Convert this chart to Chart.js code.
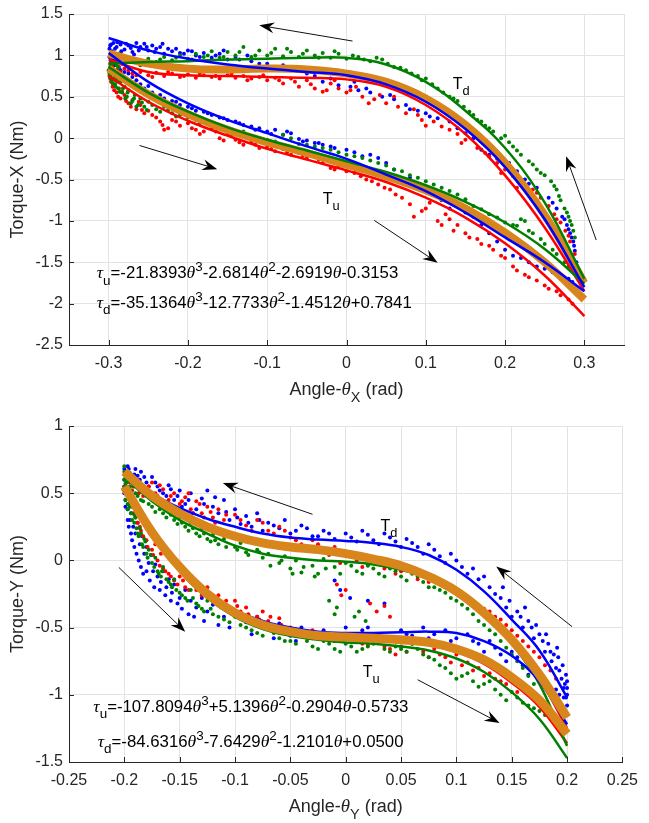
<!DOCTYPE html>
<html><head><meta charset="utf-8">
<script src="https://cdn.jsdelivr.net/npm/chart.js@4"></script>
<style>
html,body{margin:0;padding:0;background:#fff;}
#wrap{position:relative;width:649px;height:823px;overflow:hidden;background:#fff;}
.box{position:absolute;left:0;width:649px;}
</style></head><body>
<div id="wrap">
<div class="box" style="top:0;height:410px"><canvas id="c1"></canvas></div>
<div class="box" style="top:410px;height:413px"><canvas id="c2"></canvas></div>
</div>
<script>
// ---------------- DATA: top panel (X axis) ----------------
const xTicksTop = [-0.3,-0.2,-0.1,0,0.1,0.2,0.3];
const yTicksTop = [-2.5,-2,-1.5,-1,-0.5,0,0.5,1,1.5];
const thetaTop = [-0.3,-0.25,-0.2,-0.15,-0.1,-0.05,0,0.05,0.1,0.15,0.2,0.25,0.3];
const topOrangeTu = [0.84,0.53,0.29,0.10,-0.05,-0.18,-0.32,-0.46,-0.63,-0.85,-1.14,-1.50,-1.95];
const topOrangeTd = [1.02,0.90,0.84,0.83,0.84,0.83,0.78,0.68,0.48,0.16,-0.30,-0.93,-1.75];
const topBlueTd = [1.21,1.06,0.96,0.89,0.84,0.80,0.76,0.65,0.44,0.11,-0.35,-0.98,-1.80];
const topRedTd = [0.95,0.80,0.76,0.75,0.74,0.73,0.71,0.62,0.40,0.05,-0.45,-1.08,-1.85];
const topGreenTd = [0.90,0.92,0.93,0.95,0.96,0.97,0.97,0.89,0.68,0.33,-0.12,-0.78,-1.70];
const topBlueTu = [1.03,0.68,0.42,0.22,0.06,-0.10,-0.25,-0.44,-0.64,-0.90,-1.20,-1.50,-1.85];
const topGreenTu = [0.86,0.55,0.32,0.13,-0.02,-0.15,-0.28,-0.41,-0.57,-0.77,-1.02,-1.34,-1.76];
const topRedTu = [0.75,0.44,0.21,0.03,-0.13,-0.26,-0.39,-0.53,-0.72,-0.96,-1.27,-1.66,-2.15];

const topBlueDots = [[-0.298,1.12],[-0.296,1.05],[-0.294,1.15],[-0.292,1.08],[-0.29,1.1],[-0.288,1.02],[-0.285,1.13],[-0.28,1.07],[-0.275,1.12],[-0.27,1.04],[-0.265,1.15],[-0.26,1.1],[-0.255,1.14],[-0.25,1.06],[-0.245,1.12],[-0.24,1.08],[-0.235,1.1],[-0.23,1.02],[-0.225,1.08],[-0.22,1.05],[-0.21,1.03],[-0.2,1.06],[-0.19,1.0],[-0.18,1.03],[-0.17,0.97],[-0.16,1.02],[-0.15,0.95],[-0.14,0.98],[-0.12,0.93],[-0.1,0.9],[-0.08,0.88],[-0.06,0.84],[-0.04,0.75],[-0.03,0.68],[-0.02,0.72],[-0.01,0.64],[0.005,0.62],[0.015,0.58],[0.03,0.55],[0.045,0.5],[0.06,0.47],[0.075,0.4],[0.09,0.33],[0.1,0.3],[0.115,0.24],[0.13,0.2],[0.15,0.06],[0.17,-0.14],[0.18,-0.2],[0.205,-0.3],[0.215,-0.4],[0.225,-0.5],[0.24,-0.6],[0.255,-0.72],[0.265,-0.85],[0.272,-0.95],[0.278,-1.05],[0.282,-1.15],[0.286,-1.25],[0.288,-1.36],[0.29,-1.5],
[-0.299,0.98],[-0.297,0.92],[-0.295,0.96],[-0.293,0.88],[-0.29,0.93],[-0.287,0.85],[-0.283,0.9],[-0.28,0.8],[-0.27,0.74],[-0.26,0.65],[-0.255,0.6],[-0.25,0.63],[-0.245,0.55],[-0.24,0.5],[-0.23,0.48],[-0.22,0.45],[-0.21,0.4],[-0.2,0.38],[-0.19,0.33],[-0.18,0.32],[-0.17,0.28],[-0.16,0.25],[-0.15,0.22],[-0.14,0.2],[-0.13,0.16],[-0.12,0.14],[-0.11,0.12],[-0.1,0.08],[-0.09,0.1],[-0.08,0.04],[-0.07,0.06],[-0.06,-0.01],[-0.05,-0.03],[-0.04,-0.06],[-0.03,-0.08],[-0.02,-0.1],[0.0,-0.14],[0.02,-0.22],[0.04,-0.24],[0.06,-0.38],[0.07,-0.5],[0.09,-0.56],[0.11,-0.65],[0.13,-0.85],[0.15,-0.9],[0.17,-1.05],[0.19,-1.25],[0.2,-1.35],[0.21,-1.42],[0.23,-1.5],[0.25,-1.58],[0.27,-1.66],[0.285,-1.74]];
const topBlueMore = [[-0.299,1.08],[-0.297,1.13],[-0.293,1.0],[-0.289,1.16],[-0.284,1.05],[-0.278,1.14],[-0.272,1.09],[-0.268,1.01],[-0.262,1.06],[-0.252,1.1],[-0.242,1.04],[-0.232,1.14],[-0.215,1.08],[-0.205,1.02],[-0.195,1.05],[-0.185,0.98],[-0.165,1.0],[-0.155,1.06],[-0.135,0.95],[-0.125,1.0],[-0.11,0.9],[-0.09,0.85],[-0.07,0.82],[-0.05,0.78],[0.01,0.68],[0.025,0.6],[0.055,0.52],[0.08,0.35],[0.105,0.26],[0.125,0.3],[0.14,0.12],[0.16,0.0],[0.19,-0.25],[0.23,-0.55],[0.26,-0.78],[0.275,-0.98],[0.28,-1.1],[0.284,-1.2],[0.287,-1.3],
[-0.296,0.9],[-0.291,0.95],[-0.285,0.82],[-0.275,0.78],[-0.265,0.7],[-0.235,0.52],[-0.215,0.44],[-0.195,0.36],[-0.175,0.3],[-0.155,0.24],[-0.135,0.18],[-0.115,0.1],[-0.095,0.05],[-0.075,0.08],[-0.055,-0.04],[-0.035,-0.06],[-0.015,-0.12],[0.01,-0.17],[0.03,-0.2],[0.05,-0.3],[0.08,-0.48],[0.1,-0.6],[0.12,-0.75],[0.14,-0.82],[0.16,-0.95],[0.18,-1.15],[0.22,-1.45],[0.24,-1.55],[0.26,-1.62],[0.28,-1.7]];
const topRedDots = [[-0.298,0.9],[-0.295,0.85],[-0.29,0.82],[-0.285,0.8],[-0.28,0.84],[-0.27,0.78],[-0.26,0.8],[-0.25,0.76],[-0.24,0.79],[-0.23,0.75],[-0.22,0.78],[-0.21,0.74],[-0.2,0.77],[-0.19,0.73],[-0.18,0.76],[-0.17,0.74],[-0.16,0.72],[-0.15,0.76],[-0.14,0.73],[-0.13,0.75],[-0.12,0.72],[-0.11,0.74],[-0.1,0.7],[-0.09,0.73],[-0.08,0.66],[-0.07,0.72],[-0.06,0.62],[-0.05,0.7],[-0.04,0.6],[-0.03,0.56],[-0.02,0.66],[-0.01,0.6],[0.005,0.58],[0.02,0.5],[0.035,0.47],[0.05,0.42],[0.06,0.5],[0.075,0.3],[0.085,0.35],[0.095,0.22],[0.11,0.2],[0.12,0.14],[0.14,0.05],[0.15,-0.02],[0.165,-0.12],[0.18,-0.22],[0.19,-0.3],[0.2,-0.38],[0.21,-0.46],[0.22,-0.55],[0.235,-0.62],[0.245,-0.72],[0.255,-0.82],[0.262,-0.92],[0.27,-1.02],[0.276,-1.12],[0.282,-1.25],[0.288,-1.4],
[-0.299,0.75],[-0.297,0.68],[-0.295,0.62],[-0.292,0.7],[-0.29,0.55],[-0.287,0.6],[-0.285,0.48],[-0.28,0.52],[-0.275,0.42],[-0.27,0.46],[-0.265,0.35],[-0.26,0.4],[-0.255,0.3],[-0.25,0.33],[-0.24,0.25],[-0.235,0.2],[-0.23,0.1],[-0.22,0.22],[-0.21,0.15],[-0.2,0.18],[-0.19,0.1],[-0.18,0.08],[-0.17,0.12],[-0.16,0.0],[-0.15,0.05],[-0.14,-0.02],[-0.13,-0.08],[-0.12,-0.05],[-0.11,-0.12],[-0.1,-0.1],[-0.09,-0.16],[-0.08,-0.13],[-0.07,-0.2],[-0.06,-0.18],[-0.05,-0.24],[-0.04,-0.22],[-0.03,-0.3],[-0.02,-0.36],[-0.01,-0.33],[0.01,-0.42],[0.025,-0.5],[0.04,-0.56],[0.055,-0.62],[0.07,-0.72],[0.08,-0.8],[0.095,-0.88],[0.105,-0.78],[0.115,-1.0],[0.125,-0.92],[0.135,-1.12],[0.14,-1.05],[0.155,-1.2],[0.17,-1.28],[0.185,-1.35],[0.2,-1.45],[0.21,-1.55],[0.225,-1.65],[0.24,-1.72],[0.255,-1.82],[0.27,-1.9],[0.285,-2.0]];
const topRedMore = [[-0.296,0.88],[-0.292,0.8],[-0.287,0.86],[-0.275,0.82],[-0.265,0.76],[-0.245,0.74],[-0.225,0.8],[-0.205,0.75],[-0.185,0.78],[-0.165,0.75],[-0.145,0.78],[-0.125,0.7],[-0.105,0.76],[-0.085,0.7],[-0.065,0.68],[-0.045,0.65],[-0.025,0.58],[-0.015,0.7],[0.0,0.55],[0.012,0.62],[0.028,0.42],[0.042,0.52],[0.065,0.38],[0.09,0.28],[0.1,0.15],[0.13,0.1],[0.145,-0.06],[0.175,-0.18],[0.195,-0.42],[0.215,-0.6],[0.24,-0.66],[0.25,-0.9],[0.265,-0.98],[0.28,-1.18],
[-0.298,0.72],[-0.293,0.58],[-0.288,0.5],[-0.283,0.56],[-0.278,0.45],[-0.272,0.38],[-0.262,0.44],[-0.258,0.34],[-0.245,0.28],[-0.232,0.16],[-0.225,0.12],[-0.215,0.2],[-0.195,0.12],[-0.185,0.05],[-0.165,0.08],[-0.155,-0.03],[-0.135,-0.05],[-0.115,-0.08],[-0.095,-0.13],[-0.075,-0.17],[-0.055,-0.21],[-0.035,-0.26],[-0.015,-0.38],[0.0,-0.4],[0.018,-0.46],[0.032,-0.52],[0.048,-0.6],[0.062,-0.68],[0.085,-0.95],[0.1,-0.85],[0.12,-1.05],[0.13,-0.98],[0.15,-1.15],[0.165,-1.22],[0.18,-1.3],[0.195,-1.42],[0.215,-1.6],[0.23,-1.68],[0.25,-1.78],[0.265,-1.85],[0.28,-1.95]];
const topGreenDots = [[-0.298,0.86],[-0.295,0.92],[-0.29,0.88],[-0.285,0.95],[-0.28,0.9],[-0.27,0.93],[-0.26,0.88],[-0.25,0.96],[-0.24,0.92],[-0.23,0.98],[-0.22,0.94],[-0.21,1.0],[-0.2,0.96],[-0.19,1.02],[-0.18,0.98],[-0.17,1.05],[-0.16,0.97],[-0.15,1.04],[-0.14,1.0],[-0.13,1.1],[-0.12,0.98],[-0.11,1.06],[-0.1,1.0],[-0.09,1.08],[-0.08,0.99],[-0.07,1.04],[-0.06,0.98],[-0.05,1.06],[-0.04,1.0],[-0.03,1.03],[-0.02,0.97],[-0.01,1.02],[0.0,0.96],[0.015,0.98],[0.03,0.93],[0.045,0.95],[0.06,0.86],[0.075,0.82],[0.09,0.75],[0.1,0.72],[0.115,0.6],[0.13,0.5],[0.14,0.45],[0.155,0.32],[0.165,0.22],[0.175,0.15],[0.185,0.08],[0.2,0.03],[0.21,-0.1],[0.22,-0.2],[0.23,-0.28],[0.24,-0.38],[0.25,-0.45],[0.258,-0.52],[0.265,-0.62],[0.27,-0.75],[0.275,-0.85],[0.28,-0.95],[0.284,-1.05],[0.288,-1.2],
[-0.3,0.82],[-0.298,0.75],[-0.296,0.7],[-0.294,0.78],[-0.292,0.65],[-0.29,0.72],[-0.288,0.6],[-0.285,0.68],[-0.283,0.55],[-0.28,0.62],[-0.277,0.5],[-0.275,0.58],[-0.27,0.45],[-0.267,0.52],[-0.263,0.4],[-0.26,0.48],[-0.255,0.38],[-0.25,0.44],[-0.24,0.35],[-0.23,0.38],[-0.22,0.3],[-0.21,0.28],[-0.2,0.25],[-0.19,0.22],[-0.18,0.2],[-0.17,0.16],[-0.16,0.12],[-0.15,0.1],[-0.14,0.07],[-0.12,0.02],[-0.1,-0.02],[-0.08,0.04],[-0.06,-0.07],[-0.04,-0.1],[-0.02,-0.14],[0.0,-0.2],[0.02,-0.24],[0.04,-0.3],[0.06,-0.38],[0.08,-0.45],[0.1,-0.52],[0.12,-0.6],[0.14,-0.68],[0.16,-0.82],[0.18,-0.92],[0.2,-1.02],[0.215,-1.06],[0.225,-1.0],[0.23,-1.12],[0.245,-1.22],[0.26,-1.35],[0.275,-1.5],[0.288,-1.62]];
const topGreenMore = [[-0.296,0.9],[-0.288,0.85],[-0.275,0.96],[-0.255,0.9],[-0.235,0.95],[-0.215,0.97],[-0.195,0.95],[-0.175,1.0],[-0.155,0.98],[-0.135,1.04],[-0.115,1.0],[-0.095,1.03],[-0.075,1.08],[-0.055,1.02],[-0.035,0.97],[-0.015,1.05],[0.008,1.0],[0.022,0.95],[0.038,0.97],[0.052,0.9],[0.068,0.85],[0.082,0.78],[0.095,0.7],[0.108,0.65],[0.122,0.55],[0.135,0.48],[0.148,0.38],[0.16,0.28],[0.17,0.2],[0.18,0.12],[0.195,0.0],[0.205,-0.05],[0.215,-0.15],[0.235,-0.32],[0.245,-0.42],[0.262,-0.58],[0.268,-0.7],[0.278,-0.9],[0.282,-1.0],[0.286,-1.12],
[-0.299,0.78],[-0.297,0.72],[-0.295,0.66],[-0.293,0.74],[-0.291,0.62],[-0.289,0.68],[-0.286,0.56],[-0.282,0.6],[-0.279,0.48],[-0.276,0.55],[-0.272,0.42],[-0.268,0.48],[-0.265,0.38],[-0.258,0.43],[-0.252,0.34],[-0.245,0.4],[-0.235,0.32],[-0.225,0.34],[-0.215,0.26],[-0.205,0.3],[-0.185,0.18],[-0.165,0.15],[-0.145,0.05],[-0.13,0.08],[-0.11,0.0],[-0.09,-0.04],[-0.07,0.0],[-0.05,-0.08],[-0.03,-0.12],[-0.01,-0.17],[0.01,-0.22],[0.03,-0.27],[0.05,-0.33],[0.07,-0.4],[0.09,-0.48],[0.11,-0.56],[0.13,-0.64],[0.15,-0.74],[0.17,-0.86],[0.19,-0.96],[0.21,-1.05],[0.22,-0.98],[0.235,-1.15],[0.25,-1.28],[0.265,-1.4],[0.28,-1.55]];

// ---------------- DATA: bottom panel (Y axis) ----------------
const xTicksBot = [-0.25,-0.2,-0.15,-0.1,-0.05,0,0.05,0.1,0.15,0.2,0.25];
const yTicksBot = [-1.5,-1,-0.5,0,0.5,1];
const thetaBot = [-0.2,-0.175,-0.15,-0.125,-0.1,-0.075,-0.05,-0.025,0,0.025,0.05,0.075,0.1,0.125,0.15,0.175,0.2];
const botOrangeTu = [0.55,0.21,-0.05,-0.25,-0.39,-0.48,-0.53,-0.56,-0.57,-0.58,-0.59,-0.61,-0.66,-0.74,-0.87,-1.04,-1.29];
const botOrangeTd = [0.66,0.48,0.35,0.25,0.18,0.13,0.10,0.08,0.05,0.01,-0.04,-0.12,-0.23,-0.39,-0.59,-0.85,-1.17];
const botBlueTd = [0.66,0.50,0.39,0.31,0.25,0.20,0.17,0.155,0.145,0.13,0.10,0.04,-0.07,-0.23,-0.44,-0.67,-1.02];
const botGreenTd = [0.62,0.44,0.30,0.20,0.11,0.05,0.02,0.0,-0.01,-0.03,-0.07,-0.13,-0.23,-0.39,-0.62,-0.92,-1.38];
const botRedTd = [0.65,0.47,0.34,0.24,0.17,0.12,0.09,0.07,0.04,0.0,-0.05,-0.13,-0.24,-0.40,-0.61,-0.88,-1.25];
const botBlueTu = [0.55,0.22,-0.04,-0.23,-0.37,-0.45,-0.50,-0.53,-0.54,-0.54,-0.535,-0.53,-0.54,-0.60,-0.71,-0.90,-1.22];
const botGreenTu = [0.58,0.20,-0.08,-0.28,-0.42,-0.51,-0.56,-0.59,-0.61,-0.62,-0.64,-0.67,-0.73,-0.83,-0.98,-1.18,-1.47];
const botRedTu = [0.56,0.21,-0.06,-0.26,-0.40,-0.49,-0.54,-0.57,-0.58,-0.59,-0.60,-0.63,-0.68,-0.77,-0.91,-1.09,-1.36];

const botBlueDots = [[-0.2,0.68],[-0.198,0.62],[-0.197,0.7],[-0.195,0.65],[-0.193,0.6],[-0.19,0.68],[-0.188,0.63],[-0.185,0.66],[-0.18,0.58],[-0.175,0.62],[-0.17,0.55],[-0.165,0.5],[-0.16,0.56],[-0.155,0.45],[-0.15,0.52],[-0.145,0.42],[-0.14,0.5],[-0.135,0.38],[-0.13,0.46],[-0.125,0.52],[-0.12,0.4],[-0.115,0.35],[-0.11,0.45],[-0.105,0.3],[-0.1,0.38],[-0.095,0.27],[-0.09,0.33],[-0.085,0.25],[-0.08,0.35],[-0.075,0.22],[-0.07,0.28],[-0.06,0.24],[-0.05,0.2],[-0.04,0.26],[-0.03,0.18],[-0.02,0.22],[-0.01,0.16],[0.0,0.2],[0.01,0.14],[0.02,0.19],[0.03,0.12],[0.04,0.17],[0.05,0.1],[0.06,0.13],[0.07,0.05],[0.08,0.08],[0.09,-0.02],[0.1,0.0],[0.11,-0.1],[0.12,-0.14],[0.13,-0.2],[0.14,-0.28],[0.145,-0.35],[0.15,-0.42],[0.155,-0.38],[0.16,-0.5],[0.165,-0.45],[0.17,-0.58],[0.175,-0.55],[0.18,-0.68],[0.183,-0.62],[0.186,-0.75],[0.19,-0.8],[0.192,-0.72],[0.195,-0.88],[0.197,-0.95],[0.199,-0.85],[0.2,-1.0],[0.2,-1.08],[-0.01,-0.15],[-0.005,-0.22],[0.004,-0.28],[0.02,-0.3],[0.035,-0.32],
[-0.2,0.55],[-0.199,0.45],[-0.198,0.5],[-0.197,0.38],[-0.196,0.42],[-0.195,0.3],[-0.194,0.35],[-0.192,0.25],[-0.19,0.2],[-0.188,0.28],[-0.186,0.12],[-0.184,0.18],[-0.182,0.05],[-0.18,0.1],[-0.178,-0.02],[-0.176,0.04],[-0.174,-0.08],[-0.172,-0.03],[-0.17,-0.12],[-0.167,-0.16],[-0.165,-0.08],[-0.162,-0.2],[-0.16,-0.14],[-0.157,-0.24],[-0.155,-0.18],[-0.15,-0.28],[-0.145,-0.22],[-0.14,-0.3],[-0.135,-0.35],[-0.13,-0.28],[-0.125,-0.38],[-0.12,-0.33],[-0.11,-0.42],[-0.1,-0.38],[-0.09,-0.46],[-0.08,-0.42],[-0.07,-0.5],[-0.06,-0.47],[-0.05,-0.56],[-0.04,-0.5],[-0.03,-0.58],[-0.02,-0.52],[-0.01,-0.6],[0.0,-0.5],[0.01,-0.56],[0.02,-0.5],[0.03,-0.55],[0.04,-0.58],[0.05,-0.52],[0.06,-0.56],[0.07,-0.5],[0.08,-0.55],[0.09,-0.52],[0.1,-0.58],[0.11,-0.55],[0.12,-0.62],[0.13,-0.6],[0.14,-0.7],[0.15,-0.68],[0.16,-0.78],[0.17,-0.82],[0.18,-0.9],[0.19,-0.96],[0.197,-1.02]];
const botBlueMore = [[-0.2,0.6],[-0.199,0.66],[-0.196,0.68],[-0.194,0.62],[-0.191,0.64],[-0.189,0.58],[-0.186,0.6],[-0.182,0.62],[-0.178,0.55],[-0.172,0.58],[-0.168,0.52],[-0.162,0.48],[-0.158,0.53],[-0.152,0.48],[-0.148,0.4],[-0.142,0.45],[-0.138,0.35],[-0.128,0.42],[-0.118,0.47],[-0.108,0.36],[-0.098,0.32],[-0.088,0.28],[-0.078,0.3],[-0.065,0.26],[-0.055,0.3],[-0.045,0.22],[-0.035,0.24],[-0.025,0.18],[-0.015,0.2],[0.005,0.17],[0.015,0.22],[0.025,0.15],[0.035,0.2],[0.045,0.14],[0.055,0.16],[0.065,0.1],[0.075,0.12],[0.085,0.03],[0.095,0.05],[0.105,-0.05],[0.115,-0.06],[0.125,-0.12],[0.135,-0.25],[0.142,-0.2],[0.148,-0.3],[0.158,-0.42],[0.162,-0.35],[0.168,-0.5],[0.172,-0.48],[0.178,-0.6],[0.181,-0.55],[0.185,-0.68],[0.188,-0.7],[0.191,-0.65],[0.193,-0.82],[0.196,-0.78],[0.198,-0.92],[0.199,-1.02],[0.2,-0.9],[0.2,-0.95],
[-0.2,0.5],[-0.199,0.4],[-0.197,0.3],[-0.196,0.25],[-0.194,0.2],[-0.193,0.15],[-0.191,0.1],[-0.189,0.05],[-0.187,0.0],[-0.185,-0.05],[-0.183,-0.1],[-0.18,-0.08],[-0.177,-0.15],[-0.173,-0.2],[-0.168,-0.22],[-0.163,-0.26],[-0.158,-0.3],[-0.152,-0.32],[-0.148,-0.36],[-0.142,-0.4],[-0.137,-0.42],[-0.128,-0.45],[-0.115,-0.48],[-0.105,-0.5],[-0.085,-0.55],[-0.065,-0.58],[-0.045,-0.6],[-0.025,-0.55],[-0.005,-0.58],[0.015,-0.52],[0.035,-0.6],[0.055,-0.55],[0.075,-0.58],[0.095,-0.6],[0.115,-0.6],[0.125,-0.68],[0.135,-0.65],[0.145,-0.75],[0.155,-0.72],[0.165,-0.85],[0.175,-0.88],[0.185,-0.95],[0.193,-1.0]];
const botRedDots = [[-0.198,0.62],[-0.195,0.58],[-0.192,0.55],[-0.19,0.6],[-0.187,0.5],[-0.185,0.56],[-0.18,0.52],[-0.175,0.58],[-0.17,0.48],[-0.165,0.53],[-0.16,0.45],[-0.155,0.5],[-0.15,0.42],[-0.145,0.47],[-0.14,0.38],[-0.135,0.44],[-0.13,0.35],[-0.125,0.4],[-0.12,0.32],[-0.115,0.38],[-0.11,0.3],[-0.1,0.34],[-0.09,0.26],[-0.08,0.3],[-0.07,0.22],[-0.06,0.25],[-0.05,0.17],[-0.04,0.12],[-0.03,0.15],[-0.02,0.06],[-0.01,0.1],[-0.005,-0.02],[0.005,0.04],[0.015,-0.05],[0.025,0.02],[0.035,-0.06],[0.05,-0.08],[0.065,-0.14],[0.08,-0.12],[0.095,-0.22],[0.11,-0.28],[0.12,-0.34],[0.13,-0.38],[0.14,-0.44],[0.15,-0.52],[0.16,-0.6],[0.17,-0.68],[0.18,-0.78],[0.19,-0.88],[-0.008,-0.18],[-0.004,-0.26],[0.0,-0.22],[0.022,-0.32],[0.028,-0.38],[0.035,-0.34],[0.04,-0.42],
[-0.195,0.45],[-0.192,0.35],[-0.19,0.4],[-0.188,0.28],[-0.185,0.22],[-0.182,0.3],[-0.18,0.15],[-0.177,0.2],[-0.175,0.08],[-0.172,0.12],[-0.17,0.0],[-0.167,0.05],[-0.165,-0.06],[-0.16,-0.1],[-0.155,-0.15],[-0.15,-0.12],[-0.145,-0.2],[-0.14,-0.16],[-0.135,-0.22],[-0.13,-0.26],[-0.125,-0.2],[-0.12,-0.3],[-0.115,-0.26],[-0.11,-0.34],[-0.1,-0.3],[-0.095,-0.38],[-0.09,-0.35],[-0.08,-0.42],[-0.075,-0.38],[-0.07,-0.45],[-0.06,-0.43],[-0.05,-0.5],[-0.04,-0.55],[-0.03,-0.52],[-0.02,-0.58],[-0.01,-0.6],[0.0,-0.56],[0.01,-0.6],[0.02,-0.63],[0.03,-0.58],[0.04,-0.66],[0.05,-0.64],[0.06,-0.62],[0.07,-0.68],[0.08,-0.66],[0.09,-0.72],[0.1,-0.7],[0.11,-0.76],[0.12,-0.8],[0.13,-0.84],[0.14,-0.9],[0.15,-0.88],[0.16,-0.96],[0.17,-1.02],[0.18,-1.06]];
const botRedMore = [[-0.196,0.6],[-0.193,0.52],[-0.188,0.58],[-0.183,0.48],[-0.178,0.55],[-0.172,0.5],[-0.168,0.56],[-0.162,0.42],[-0.158,0.48],[-0.152,0.38],[-0.148,0.44],[-0.142,0.5],[-0.138,0.35],[-0.132,0.42],[-0.128,0.32],[-0.122,0.36],[-0.118,0.28],[-0.108,0.34],[-0.095,0.3],[-0.085,0.22],[-0.075,0.28],[-0.065,0.2],[-0.055,0.22],[-0.045,0.15],[-0.035,0.1],[-0.025,0.12],[-0.015,0.04],[0.01,0.0],[0.02,-0.03],[0.03,0.0],[0.045,-0.1],[0.06,-0.06],[0.075,-0.16],[0.09,-0.18],[0.105,-0.25],[0.115,-0.3],[0.125,-0.36],[0.135,-0.42],[0.145,-0.48],[0.155,-0.56],[0.165,-0.64],[0.175,-0.72],[0.185,-0.82],
[-0.193,0.42],[-0.19,0.32],[-0.186,0.25],[-0.183,0.18],[-0.179,0.1],[-0.174,0.04],[-0.168,-0.04],[-0.163,-0.08],[-0.158,-0.12],[-0.152,-0.18],[-0.147,-0.15],[-0.142,-0.22],[-0.137,-0.18],[-0.128,-0.24],[-0.118,-0.28],[-0.108,-0.3],[-0.098,-0.34],[-0.088,-0.4],[-0.078,-0.44],[-0.068,-0.42],[-0.058,-0.48],[-0.048,-0.52],[-0.035,-0.55],[-0.025,-0.56],[-0.005,-0.58],[0.015,-0.62],[0.035,-0.64],[0.045,-0.7],[0.055,-0.68],[0.075,-0.72],[0.085,-0.7],[0.095,-0.76],[0.105,-0.78],[0.115,-0.82],[0.125,-0.86],[0.135,-0.88],[0.145,-0.92],[0.155,-0.98],[0.165,-1.0],[0.175,-1.05]];
const botGreenDots = [[-0.2,0.7],[-0.199,0.62],[-0.197,0.66],[-0.195,0.55],[-0.192,0.6],[-0.19,0.5],[-0.187,0.55],[-0.185,0.45],[-0.18,0.48],[-0.175,0.4],[-0.17,0.42],[-0.165,0.35],[-0.16,0.38],[-0.155,0.3],[-0.15,0.32],[-0.145,0.25],[-0.14,0.28],[-0.135,0.2],[-0.13,0.24],[-0.125,0.16],[-0.12,0.19],[-0.115,0.12],[-0.11,0.16],[-0.1,0.1],[-0.095,0.13],[-0.09,0.06],[-0.08,0.08],[-0.075,0.02],[-0.07,0.05],[-0.06,-0.02],[-0.055,0.03],[-0.05,-0.06],[-0.045,0.0],[-0.04,-0.09],[-0.03,-0.04],[-0.025,-0.1],[-0.02,0.01],[-0.01,-0.05],[0.0,-0.02],[0.01,-0.08],[0.02,-0.04],[0.03,-0.1],[0.04,-0.06],[0.05,-0.12],[0.06,-0.1],[0.07,-0.16],[0.08,-0.2],[0.09,-0.24],[0.1,-0.3],[0.11,-0.36],[0.12,-0.45],[0.13,-0.52],[0.14,-0.6],[0.15,-0.7],[0.16,-0.8],[0.17,-0.92],[-0.015,-0.3],[-0.01,-0.4],[-0.008,-0.35],[0.008,-0.42],[0.012,-0.38],[0.018,-0.45],
[-0.2,0.6],[-0.199,0.5],[-0.198,0.55],[-0.197,0.42],[-0.196,0.46],[-0.194,0.35],[-0.193,0.4],[-0.191,0.28],[-0.19,0.32],[-0.188,0.2],[-0.186,0.24],[-0.184,0.12],[-0.182,0.16],[-0.18,0.05],[-0.178,0.08],[-0.175,-0.02],[-0.172,0.02],[-0.17,-0.08],[-0.167,-0.12],[-0.165,-0.05],[-0.16,-0.16],[-0.157,-0.2],[-0.155,-0.14],[-0.15,-0.24],[-0.145,-0.28],[-0.14,-0.22],[-0.135,-0.32],[-0.13,-0.36],[-0.125,-0.3],[-0.12,-0.4],[-0.11,-0.44],[-0.1,-0.42],[-0.09,-0.5],[-0.08,-0.54],[-0.07,-0.5],[-0.06,-0.58],[-0.05,-0.6],[-0.04,-0.56],[-0.03,-0.64],[-0.02,-0.6],[-0.01,-0.66],[0.0,-0.62],[0.01,-0.68],[0.02,-0.64],[0.03,-0.6],[0.04,-0.68],[0.05,-0.66],[0.06,-0.62],[0.07,-0.7],[0.08,-0.74],[0.09,-0.8],[0.1,-0.88],[0.11,-0.84],[0.12,-0.94],[0.13,-0.9],[0.14,-1.0],[0.15,-0.98],[0.16,-1.06],[0.17,-1.1],[0.18,-1.15]];
const botGreenMore = [[-0.2,0.66],[-0.198,0.58],[-0.196,0.6],[-0.194,0.52],[-0.191,0.55],[-0.188,0.48],[-0.183,0.44],[-0.178,0.42],[-0.172,0.36],[-0.168,0.38],[-0.162,0.32],[-0.158,0.34],[-0.152,0.27],[-0.148,0.28],[-0.142,0.22],[-0.138,0.24],[-0.132,0.18],[-0.128,0.2],[-0.122,0.14],[-0.118,0.15],[-0.108,0.1],[-0.098,0.08],[-0.088,0.04],[-0.078,0.06],[-0.068,-0.04],[-0.058,0.0],[-0.048,-0.1],[-0.038,-0.05],[-0.028,-0.12],[-0.018,-0.06],[-0.005,-0.1],[0.005,-0.04],[0.015,-0.1],[0.025,-0.06],[0.035,-0.12],[0.045,-0.08],[0.055,-0.15],[0.065,-0.12],[0.075,-0.2],[0.085,-0.22],[0.095,-0.28],[0.105,-0.33],[0.115,-0.4],[0.125,-0.48],[0.135,-0.55],[0.145,-0.65],[0.155,-0.75],[0.165,-0.86],
[-0.2,0.55],[-0.199,0.45],[-0.197,0.38],[-0.195,0.4],[-0.193,0.3],[-0.191,0.34],[-0.189,0.24],[-0.187,0.18],[-0.185,0.2],[-0.183,0.1],[-0.181,0.14],[-0.179,0.02],[-0.176,0.04],[-0.173,-0.05],[-0.169,-0.1],[-0.166,-0.08],[-0.162,-0.14],[-0.158,-0.18],[-0.153,-0.22],[-0.148,-0.26],[-0.143,-0.3],[-0.138,-0.28],[-0.133,-0.34],[-0.128,-0.38],[-0.122,-0.36],[-0.115,-0.42],[-0.105,-0.46],[-0.095,-0.48],[-0.085,-0.52],[-0.075,-0.56],[-0.065,-0.54],[-0.055,-0.6],[-0.045,-0.62],[-0.035,-0.6],[-0.025,-0.66],[-0.015,-0.62],[-0.005,-0.68],[0.005,-0.64],[0.015,-0.66],[0.025,-0.62],[0.035,-0.66],[0.045,-0.64],[0.055,-0.68],[0.065,-0.66],[0.075,-0.72],[0.085,-0.78],[0.095,-0.84],[0.105,-0.86],[0.115,-0.9],[0.125,-0.92],[0.135,-0.96],[0.145,-1.04],[0.155,-1.02],[0.165,-1.08],[0.175,-1.12]];

// ---------------- texts & annotations ----------------
const titleXTop = 'Angle-θ_X (rad)';
const titleYTop = 'Torque-X (Nm)';
const titleXBot = 'Angle-θ_Y (rad)';
const titleYBot = 'Torque-Y (Nm)';
const eqTop = ['τ_u=-21.8393θ^3-2.6814θ^2-2.6919θ-0.3153','τ_d=-35.1364θ^3-12.7733θ^2-1.4512θ+0.7841'];
const eqBot = ['τ_u=-107.8094θ^3+5.1396θ^2-0.2904θ-0.5733','τ_d=-84.6316θ^3-7.6429θ^2-1.2101θ+0.0500'];
const eqTopPos = [[-0.315,-1.693],[-0.315,-2.05]];
const eqBotPos = [[-0.228,-1.125],[-0.224,-1.386]];
const labelsTop = [['T_d',0.134,0.59],['T_u',-0.030,-0.80]];
const labelsBot = [['T_d',0.0315,0.216],['T_u',0.0153,-0.866]];
// arrows: [x1,y1,x2(tip),y2(tip)]
const arrowsTop = [[0.0076,1.173,-0.110,1.363],[-0.261,-0.089,-0.163,-0.375],[0.035,-0.994,0.115,-1.506],[0.315,-1.232,0.277,-0.220]];
const arrowsBot = [[-0.030,0.343,-0.111,0.575],[-0.205,-0.052,-0.145,-0.530],[0.2045,-0.493,0.136,-0.045],[0.065,-0.888,0.139,-1.209]];

// ---------------- helpers ----------------
const BLUE='#0000ff', RED='#ff0000', GREEN='#008000', ORANGE='#d8861c', AX='#262626';
const SANS='"Liberation Sans", Arial, sans-serif';
const SERIF='"Liberation Serif", "Times New Roman", serif';
const EQ_SIZE=16.8;

function parseRich(s){
  const parts=[]; let buf='';
  const flush=()=>{ if(buf){parts.push({t:buf}); buf='';} };
  for(let i=0;i<s.length;i++){
    const c=s[i];
    if(c==='τ'||c==='θ'){ flush(); parts.push({t:c,g:true}); }
    else if(c==='_'){ flush(); parts.push({t:s[++i],sub:true}); }
    else if(c==='^'){ flush(); parts.push({t:s[++i],sup:true}); }
    else buf+=c;
  }
  flush(); return parts;
}
function richText(ctx,x,y,str,size,dry){
  const parts=parseRich(str); let cx=x;
  for(const p of parts){
    let fs=size, dy=0, fam=SANS, st='';
    if(p.g){ fam=SERIF; st='italic '; fs=size*1.05; }
    if(p.sub){ fs=size*0.8; dy=size*0.38; }
    if(p.sup){ fs=size*0.8; dy=-size*0.42; }
    ctx.font=st+fs+'px '+fam;
    if(!dry) ctx.fillText(p.t,cx,y+dy);
    cx+=ctx.measureText(p.t).width;
  }
  return cx-x;
}
function arrow(ctx,x1,y1,x2,y2){
  const a=Math.atan2(y2-y1,x2-x1), c=Math.cos(a), s=Math.sin(a);
  const L=15, W=5.5, N=10;
  ctx.save();
  ctx.strokeStyle='#111'; ctx.fillStyle='#000'; ctx.lineWidth=1;
  ctx.beginPath(); ctx.moveTo(x1,y1); ctx.lineTo(x2-N*c,y2-N*s); ctx.stroke();
  ctx.beginPath();
  ctx.moveTo(x2,y2);
  ctx.lineTo(x2-L*c-W*s, y2-L*s+W*c);
  ctx.lineTo(x2-N*c, y2-N*s);
  ctx.lineTo(x2-L*c+W*s, y2-L*s-W*c);
  ctx.closePath(); ctx.fill();
  ctx.restore();
}
function lineSet(xs,ys,color,width,order){
  return {type:'line',data:xs.map((x,i)=>({x:x,y:ys[i]})),borderColor:color,backgroundColor:color,
    borderWidth:width,pointRadius:0,showLine:true,tension:0.4,fill:false,order:order,borderCapStyle:'butt'};
}
function dotSet(pts,color,order){
  return {type:'scatter',data:pts.map(p=>({x:p[0],y:p[1]})),backgroundColor:color,borderColor:color,
    borderWidth:0,pointRadius:2.0,pointHoverRadius:2.0,showLine:false,order:order};
}
function makeOverlay(cfg){
  return {
    id:'overlay',
    afterDatasetsDraw(chart){
      const ctx=chart.ctx, xs=chart.scales.x, ys=chart.scales.y, a=chart.chartArea;
      ctx.save();
      ctx.strokeStyle=AX; ctx.lineWidth=1;
      ctx.beginPath();
      cfg.xt.forEach(v=>{const p=Math.round(xs.getPixelForValue(v))+0.5; ctx.moveTo(p,a.bottom); ctx.lineTo(p,a.bottom-5);});
      cfg.yt.forEach(v=>{const p=Math.round(ys.getPixelForValue(v))+0.5; ctx.moveTo(a.left,p); ctx.lineTo(a.left+5,p);});
      ctx.stroke();
      cfg.arrows.forEach(r=>arrow(ctx,xs.getPixelForValue(r[0]),ys.getPixelForValue(r[1]),xs.getPixelForValue(r[2]),ys.getPixelForValue(r[3])));
      ctx.fillStyle='#000'; ctx.textBaseline='alphabetic'; ctx.textAlign='left';
      cfg.labels.forEach(l=>richText(ctx,xs.getPixelForValue(l[1]),ys.getPixelForValue(l[2]),l[0],16));
      cfg.eq.forEach((e,i)=>richText(ctx,xs.getPixelForValue(cfg.eqPos[i][0]),ys.getPixelForValue(cfg.eqPos[i][1]),e,EQ_SIZE));
      ctx.fillStyle=AX;
      const w=richText(ctx,0,0,cfg.tx,18,true);
      richText(ctx,(a.left+a.right)/2-w/2,a.bottom+50,cfg.tx,18);
      ctx.translate(18,(a.top+a.bottom)/2); ctx.rotate(-Math.PI/2);
      ctx.font='18px '+SANS; ctx.textAlign='center'; ctx.textBaseline='middle';
      ctx.fillText(cfg.ty,0,0);
      ctx.restore();
    }
  };
}
function scaleOpts(min,max,ticks,labelled,pad,fitSize,horiz){
  return {
    type:'linear',min:min,max:max,
    afterBuildTicks:s=>{s.ticks=ticks.map(v=>({value:v}));},
    afterFit:s=>{ if(horiz) s.height=fitSize; else s.width=fitSize; },
    ticks:{autoSkip:false,maxRotation:0,minRotation:0,padding:pad,color:AX,
      font:{family:SANS,size:16,lineHeight:1},
      callback:v=>labelled.some(t=>Math.abs(t-v)<1e-9)?String(v):''},
    grid:{color:'#e3e3e3',lineWidth:1,drawTicks:false},
    border:{display:true,color:AX,width:1}
  };
}
Chart.defaults.animation=false;

// ---------------- chart 1 ----------------
const ds1=[
  dotSet(topBlueDots.concat(topBlueMore),BLUE,30), dotSet(topRedDots.concat(topRedMore),RED,29), dotSet(topGreenDots.concat(topGreenMore),GREEN,28),
  lineSet(thetaTop,topOrangeTd,ORANGE,8,20), lineSet(thetaTop,topOrangeTu,ORANGE,8,19),
  lineSet(thetaTop,topRedTd,RED,2.5,10), lineSet(thetaTop,topRedTu,RED,2.5,9),
  lineSet(thetaTop,topGreenTd,GREEN,2.5,8), lineSet(thetaTop,topGreenTu,GREEN,2.5,7),
  lineSet(thetaTop,topBlueTd,BLUE,2.5,6), lineSet(thetaTop,topBlueTu,BLUE,2.5,5)
];
new Chart(document.getElementById('c1'),{
  type:'scatter',
  data:{datasets:ds1},
  options:{responsive:true,maintainAspectRatio:false,animation:false,events:[],
    layout:{padding:{top:9,right:25,left:0,bottom:0}},
    plugins:{legend:{display:false},tooltip:{enabled:false}},
    scales:{
      x:scaleOpts(-0.35,0.35,[-0.35,-0.3,-0.2,-0.1,0,0.1,0.2,0.3,0.35],xTicksTop,11,65,true),
      y:scaleOpts(-2.5,1.5,yTicksTop,yTicksTop,6,69,false)
    }
  },
  plugins:[makeOverlay({xt:xTicksTop,yt:yTicksTop,arrows:arrowsTop,labels:labelsTop,eq:eqTop,eqPos:eqTopPos,tx:titleXTop,ty:titleYTop})]
});

// ---------------- chart 2 ----------------
const ds2=[
  dotSet(botBlueDots.concat(botBlueMore),BLUE,30), dotSet(botRedDots.concat(botRedMore),RED,29), dotSet(botGreenDots.concat(botGreenMore),GREEN,28),
  lineSet(thetaBot,botRedTd,RED,2.5,20), lineSet(thetaBot,botRedTu,RED,2.5,19),
  lineSet(thetaBot,botGreenTd,GREEN,2.5,18), lineSet(thetaBot,botGreenTu,GREEN,2.5,17),
  lineSet(thetaBot,botBlueTd,BLUE,2.5,16), lineSet(thetaBot,botBlueTu,BLUE,2.5,15),
  lineSet(thetaBot,botOrangeTd,ORANGE,9,6), lineSet(thetaBot,botOrangeTu,ORANGE,9,5)
];
new Chart(document.getElementById('c2'),{
  type:'scatter',
  data:{datasets:ds2},
  options:{responsive:true,maintainAspectRatio:false,animation:false,events:[],
    layout:{padding:{top:16,right:25,left:0,bottom:0}},
    plugins:{legend:{display:false},tooltip:{enabled:false}},
    scales:{
      x:scaleOpts(-0.25,0.25,xTicksBot,xTicksBot,11,61,true),
      y:scaleOpts(-1.5,1,yTicksBot,yTicksBot,6,69,false)
    }
  },
  plugins:[makeOverlay({xt:xTicksBot,yt:yTicksBot,arrows:arrowsBot,labels:labelsBot,eq:eqBot,eqPos:eqBotPos,tx:titleXBot,ty:titleYBot})]
});
</script>
</body></html>
